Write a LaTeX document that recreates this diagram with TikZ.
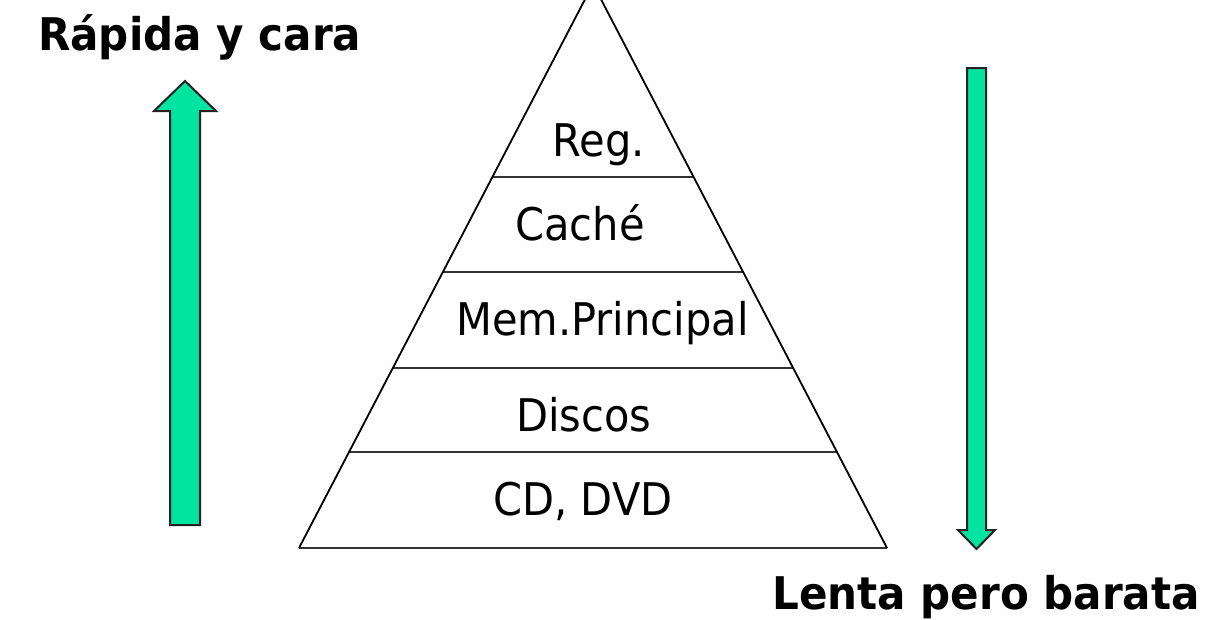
\documentclass[tikz,border=0pt]{standalone}
\usepackage{fontspec}
\setmainfont[FakeStretch=0.924,BoldFeatures={FakeStretch=0.935}]{DejaVu Sans}
\usetikzlibrary{calc}
\definecolor{arrowfill}{RGB}{0,228,160}
\definecolor{arrowline}{RGB}{34,34,34}
\definecolor{levelline}{RGB}{51,51,51}
\tikzset{
  lbl/.style={anchor=base, inner sep=0pt, font=\fontsize{45}{50}\selectfont},
  ttl/.style={anchor=base west, inner sep=0pt, font=\fontsize{45}{50}\selectfont\bfseries},
  bigarrow/.style={fill=arrowfill, draw=arrowline, line width=2pt, line join=miter},
  edge/.style={draw=black, line width=1.8pt},
  level/.style={draw=levelline, line width=2pt}
}
\begin{document}
\begin{tikzpicture}[x=1pt,y=-1pt]
\useasboundingbox (0,0) rectangle (1221,619);
\fill[white] (0,0) rectangle (1221,619);
\begin{scope}
\clip (0,0) rectangle (1221,619);
\coordinate (apex) at (593,-16);
\coordinate (bl) at (299,548);
\coordinate (br) at (887,548);
\foreach \t [count=\i] in {0.3422,0.5106,0.6809,0.8298}{
  \coordinate (l\i) at ($(apex)!\t!(bl)$);
  \coordinate (r\i) at ($(apex)!\t!(br)$);
  \draw[level] (l\i) -- (r\i);
}
\draw[level] (bl) -- (br);
\draw[edge, line join=round] (bl) -- (apex) -- (br);
\end{scope}
% text
\node[lbl] (reg) at (599,156) {Reg.};
\node[lbl] (cache) at (580,240) {Caché};
\node[lbl] (mem) at (602.5,335.5) {Mem.Principal};
\node[lbl] (disc) at (584,431) {Discos};
\node[lbl] (cd) at (583,515.5) {CD, DVD};
\node[ttl] (fast) at (38,50) {Rápida y cara};
\node[ttl] (slow) at (772,609) {Lenta pero barata};
% arrows
\draw[bigarrow] (185,81) -- (216,111) -- (200,111) -- (200,525) -- (170,525) -- (170,111) -- (154,111) -- cycle;
\draw[bigarrow] (967,68) -- (986,68) -- (986,530) -- (995,530) -- (976.5,549) -- (958,530) -- (967,530) -- cycle;
\end{tikzpicture}
\end{document}
